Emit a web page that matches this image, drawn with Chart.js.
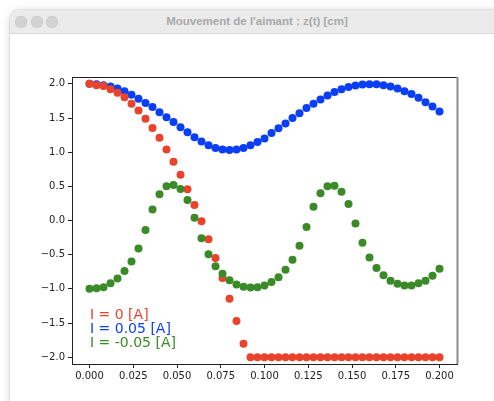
<!DOCTYPE html>
<html>
<head>
<meta charset="utf-8">
<script src="https://cdn.jsdelivr.net/npm/chart.js@4/dist/chart.umd.min.js"></script>
<style>
  html, body { margin: 0; padding: 0; background: #fff; }
  body { width: 494px; height: 401px; position: relative; overflow: hidden; font-family: "DejaVu Sans", sans-serif; }
  .window {
    position: absolute; left: 10px; top: 10px; width: 530px; height: 430px;
    background: #fff; border-radius: 10px 10px 0 0;
    box-shadow: -2px 0 8px rgba(0,0,0,0.10), 0 0 0 1px rgba(0,0,0,0.08);
    overflow: hidden;
  }
  .titlebar {
    height: 23px; background: #ebebeb; border-bottom: 1px solid #dcdcdc;
    position: relative;
  }
  .titlebar .dot {
    position: absolute; top: 6px; width: 12px; height: 12px; border-radius: 50%;
    background: #d3d3d3; box-shadow: inset 0 0 0 0.5px #c4c4c4;
  }
  .titlebar .title {
    position: absolute; left: 0; width: 494px; top: 5px; text-align: center;
    font: bold 11.5px "Liberation Sans", Arial, sans-serif; color: #a8a8a8;
  }
  #wrap { position: absolute; left: 0; top: 0; width: 494px; height: 401px; }
</style>
</head>
<body>
<div class="window">
  <div class="titlebar">
    <div class="dot" style="left:5px"></div>
    <div class="dot" style="left:21px"></div>
    <div class="dot" style="left:36px"></div>
    <div class="title">Mouvement de l'aimant : z(t) [cm]</div>
  </div>
</div>
<div id="wrap"><canvas id="chart" width="494" height="401"></canvas></div>
<script>
// time samples (s)
const times = [0, 0.004, 0.008, 0.012, 0.016, 0.02, 0.024, 0.028, 0.032, 0.036,
  0.04, 0.044, 0.048, 0.052, 0.056, 0.06, 0.064, 0.068, 0.072, 0.076,
  0.08, 0.084, 0.088, 0.092, 0.096, 0.1, 0.104, 0.108, 0.112, 0.116,
  0.12, 0.124, 0.128, 0.132, 0.136, 0.14, 0.144, 0.148, 0.152, 0.156,
  0.16, 0.164, 0.168, 0.172, 0.176, 0.18, 0.184, 0.188, 0.192, 0.196, 0.2];

// z(t) for I = 0 A
const zI0 = [2.0, 1.98, 1.97, 1.92, 1.87, 1.805, 1.71, 1.61, 1.49, 1.355,
  1.21, 1.04, 0.86, 0.67, 0.457, 0.227, -0.01, -0.275, -0.55, -0.84,
  -1.145, -1.47, -1.805, -2.0, -2.0, -2.0, -2.0, -2.0, -2.0, -2.0,
  -2.0, -2.0, -2.0, -2.0, -2.0, -2.0, -2.0, -2.0, -2.0, -2.0,
  -2.0, -2.0, -2.0, -2.0, -2.0, -2.0, -2.0, -2.0, -2.0, -2.0, -2.0];

// z(t) for I = 0.05 A
const zIpos = [2.0, 1.995, 1.98, 1.96, 1.93, 1.89, 1.84, 1.78, 1.72, 1.66,
  1.585, 1.51, 1.44, 1.365, 1.29, 1.22, 1.155, 1.10, 1.06, 1.04,
  1.03, 1.04, 1.06, 1.10, 1.15, 1.20, 1.28, 1.35, 1.42, 1.50,
  1.57, 1.645, 1.71, 1.77, 1.83, 1.88, 1.92, 1.955, 1.975, 1.99,
  1.995, 1.995, 1.98, 1.96, 1.93, 1.89, 1.85, 1.795, 1.73, 1.67, 1.595];

// z(t) for I = -0.05 A
const zIneg = [-1.0, -0.99, -0.975, -0.92, -0.85, -0.74, -0.60, -0.41, -0.14, 0.16,
  0.385, 0.50, 0.52, 0.46, 0.30, 0.04, -0.26, -0.495, -0.67, -0.78,
  -0.875, -0.935, -0.97, -0.98, -0.975, -0.95, -0.90, -0.83, -0.72, -0.575,
  -0.37, -0.095, 0.20, 0.40, 0.50, 0.51, 0.42, 0.24, -0.045, -0.325,
  -0.54, -0.695, -0.80, -0.88, -0.925, -0.95, -0.95, -0.92, -0.88, -0.81, -0.705];

const labels = ['I = 0 [A]', 'I = 0.05 [A]', 'I = -0.05 [A]'];
const xTicks = [0, 0.025, 0.05, 0.075, 0.1, 0.125, 0.15, 0.175, 0.2];
const yTicks = [-2.0, -1.5, -1.0, -0.5, 0.0, 0.5, 1.0, 1.5, 2.0];

const RED = '#ea432b', BLUE = '#0a3ff5', GREEN = '#3a8a27';

function pts(ys) {
  return times.map((t, i) => ({ x: t, y: ys[i] }));
}
function minus(s) { return s.replace('-', '\u2212'); }

// frame + legend text drawn like matplotlib
const framePlugin = {
  id: 'frame',
  afterDatasetsDraw(chart) {
    const { ctx, chartArea: a } = chart;
    ctx.save();
    ctx.strokeStyle = '#222';
    ctx.lineWidth = 1;
    ctx.beginPath();
    ctx.moveTo(a.left, a.top + 0.5);
    ctx.lineTo(a.right, a.top + 0.5);
    ctx.stroke();
    ctx.strokeStyle = '#8c8c8c';
    ctx.lineWidth = 2;
    ctx.beginPath();
    ctx.moveTo(a.right + 0.5, a.top);
    ctx.lineTo(a.right + 0.5, a.bottom);
    ctx.stroke();

    // legend text, no markers
    ctx.font = '14px "DejaVu Sans"';
    ctx.textBaseline = 'alphabetic';
    ctx.textAlign = 'left';
    const colors = [RED, BLUE, GREEN];
    labels.forEach((lab, i) => {
      ctx.fillStyle = colors[i];
      ctx.fillText(lab, a.left + 18, 319 + i * 14);
    });
    ctx.restore();
  }
};

new Chart(document.getElementById('chart'), {
  type: 'scatter',
  data: {
    datasets: [
      { label: labels[0], data: pts(zI0), backgroundColor: RED, order: 1 },
      { label: labels[1], data: pts(zIpos), backgroundColor: BLUE, order: 2 },
      { label: labels[2], data: pts(zIneg), backgroundColor: GREEN, order: 0 }
    ]
  },
  options: {
    responsive: false,
    animation: false,
    devicePixelRatio: 1,
    layout: { padding: { left: 0, top: 77, right: 37, bottom: 0 } },
    elements: { point: { radius: 4, borderWidth: 0, hoverRadius: 4 } },
    plugins: { legend: { display: false }, tooltip: { enabled: false } },
    scales: {
      x: {
        type: 'linear', min: -0.01, max: 0.21,
        afterBuildTicks: s => { s.ticks = xTicks.map(v => ({ value: v })); },
        afterFit: s => { s.height = 37; },
        grid: { drawOnChartArea: false, tickLength: 4, color: '#222' },
        border: { color: '#222', width: 1 },
        ticks: {
          color: '#222', padding: 2, maxRotation: 0, autoSkip: false,
          font: { family: 'DejaVu Sans', size: 10 },
          callback: v => v.toFixed(3)
        }
      },
      y: {
        type: 'linear', min: -2.1, max: 2.1,
        afterBuildTicks: s => { s.ticks = yTicks.map(v => ({ value: v })); },
        afterFit: s => { s.width = 72; },
        grid: { drawOnChartArea: false, tickLength: 4, color: '#222' },
        border: { color: '#222', width: 1 },
        ticks: {
          color: '#222', padding: 3, autoSkip: false,
          font: { family: 'DejaVu Sans', size: 10 },
          callback: v => minus(v.toFixed(1))
        }
      }
    }
  },
  plugins: [framePlugin]
});
</script>
</body>
</html>
